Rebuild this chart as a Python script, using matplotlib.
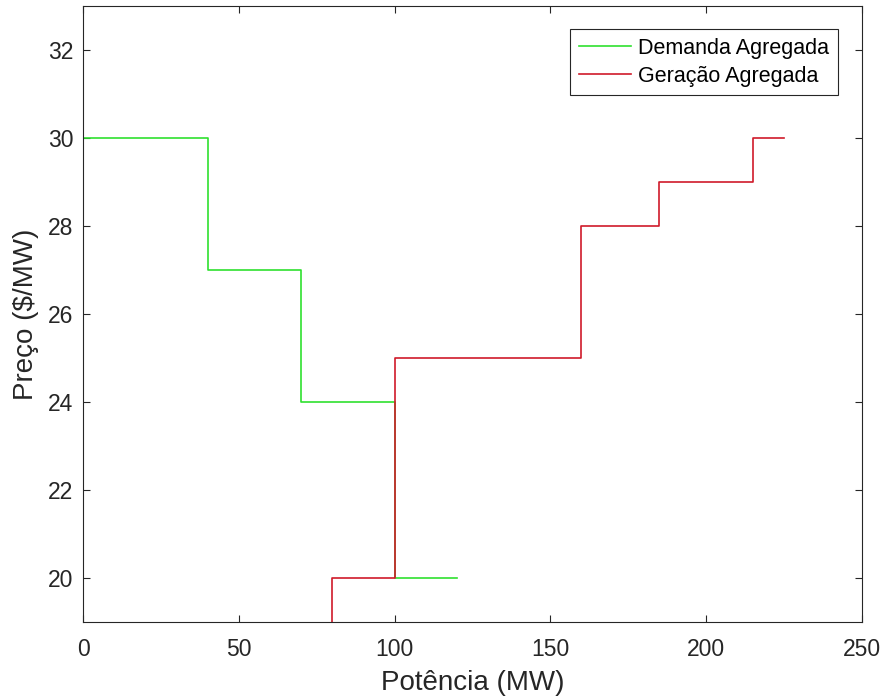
import matplotlib.pyplot as plt
import numpy as np

plt.rcParams['font.family'] = ['Liberation Sans', 'DejaVu Sans']

# curva de demanda agregada (degraus)
dem_x = [0, 40, 40, 70, 70, 100, 100, 120]
dem_y = [30, 30, 27, 27, 24, 24, 20, 20]

# curva de geração agregada (degraus)
ger_x = [80, 80, 100, 100, 160, 160, 185, 185, 215, 215, 225]
ger_y = [0, 20, 20, 25, 25, 28, 28, 29, 29, 30, 30]

fig, ax = plt.subplots(figsize=(8.83, 6.97), dpi=100)
fig.subplots_adjust(left=0.094, right=0.976, bottom=0.108, top=0.991)

ax.plot(dem_x, dem_y, color='#2fe02f', linewidth=1.2, label='Demanda Agregada')
ax.plot(ger_x, ger_y, color='#d01a2a', linewidth=1.2, label='Geração Agregada')

ax.set_xlim(0, 250)
ax.set_ylim(19, 33)
ax.set_xticks(np.arange(0, 251, 50))
ax.set_yticks(np.arange(20, 33, 2))

ax.set_xlabel('Potência (MW)', fontsize=20, color='#262626', labelpad=6)
ax.set_ylabel('Preço ($/MW)', fontsize=20, color='#262626', labelpad=6)

ax.tick_params(direction='in', top=True, right=True, labelsize=16.5,
               colors='#262626', length=5, width=0.8, pad=7)
ax.tick_params(axis='x', pad=12)
for s in ax.spines.values():
    s.set_color('#262626')
    s.set_linewidth(0.8)

leg = ax.legend(loc='upper right', bbox_to_anchor=(0.969, 0.963), fontsize=15.5,
                fancybox=False, framealpha=1, edgecolor='#262626',
                handlelength=2.4, borderpad=0.4, labelspacing=0.33,
                handletextpad=0.35, borderaxespad=0)
leg.get_frame().set_linewidth(0.8)

fig.savefig('out.png')
